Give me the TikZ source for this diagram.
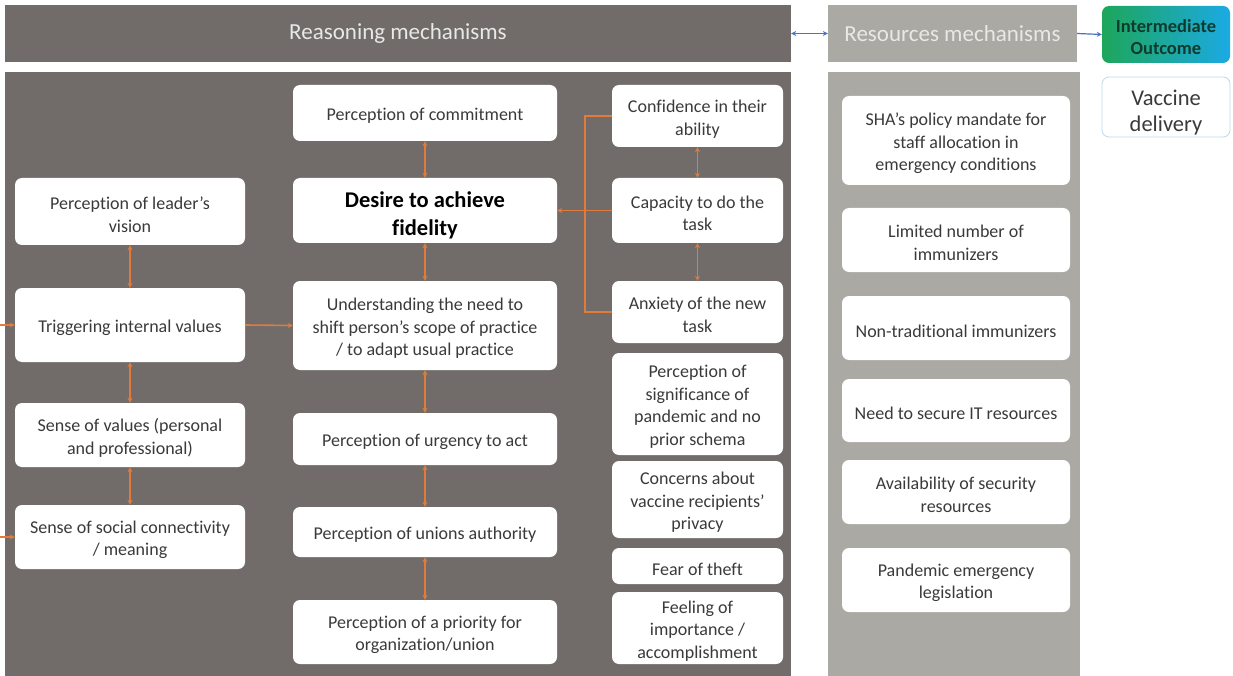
\documentclass[tikz,border=0pt]{standalone}
\usepackage{fontspec}
\setmainfont{Carlito}[Ligatures=NoCommon]
\usetikzlibrary{arrows.meta}

\definecolor{panelgray}{HTML}{716C6A}
\definecolor{resgray}{HTML}{AAA9A4}
\definecolor{headtext}{HTML}{E8E8E6}
\definecolor{boxtext}{HTML}{3A3A3A}
\definecolor{linkorange}{HTML}{E07B3C}
\definecolor{linkblue}{HTML}{4A72C0}
\definecolor{outgreen}{HTML}{1DA65A}
\definecolor{outcyan}{HTML}{1BAAE4}
\definecolor{outtext}{HTML}{0F3B2E}
\definecolor{vacborder}{HTML}{BCD9EC}

\begin{document}
\begin{tikzpicture}[x=1pt,y=-1pt,
  box/.style={rounded corners=7pt, fill=white, inner sep=0pt},
  btext/.style={align=center, text=boxtext, inner sep=0pt, yshift=-3pt,
    font=\fontsize{18}{22.5}\selectfont},
  header/.style={inner sep=0pt, text=headtext, font=\fontsize{23}{28}\selectfont},
  panel/.style={inner sep=0pt},
  link/.style={draw=linkorange, line width=1.6pt, -{Stealth[length=5pt,width=5pt]}},
  twoway/.style={draw=linkorange, line width=1.6pt,
    {Stealth[length=5pt,width=5pt]}-{Stealth[length=5pt,width=5pt]}},
  plainlink/.style={draw=linkorange, line width=1.6pt},
  bluelink/.style={draw=linkblue, line width=1.2pt}]

\useasboundingbox (0,0) rectangle (1233,676);

% headers and panels
\node[header, fill=panelgray, minimum width=786pt, minimum height=57pt] (rh) at (398,33.5) {Reasoning mechanisms};
\node[panel, fill=panelgray, minimum width=786pt, minimum height=604pt] (rp) at (398,374) {};
\node[header, fill=resgray, minimum width=249pt, minimum height=57pt] (sh) at (952.5,33.5) {Resources mechanisms};
\node[panel, fill=resgray, minimum width=252pt, minimum height=604pt] (sp) at (954,374) {};

% outcome
\node[rounded corners=7pt, left color=outgreen, right color=outcyan, inner sep=0pt,
  minimum width=128pt, minimum height=57pt,
  label={[btext, text=outtext, font=\fontsize{18.5}{22}\selectfont\bfseries]center:{Intermediate\\Outcome}}] (io) at (1166,34.5) {};
\node[rounded corners=7pt, fill=white, draw=vacborder, line width=0.8pt, inner sep=0pt,
  minimum width=128pt, minimum height=60pt,
  label={[btext, yshift=-2.5pt, font=\fontsize{22.5}{26}\selectfont]center:{Vaccine\\delivery}}] (vd) at (1166,107) {};

\draw[bluelink, {Stealth[length=5pt,width=5pt]}-{Stealth[length=5pt,width=5pt]}] (rh.east) -- (sh.west);
\draw[bluelink, -{Stealth[length=5pt,width=5pt]}] (sh.east) -- (io.west);

% left column
\node[box, minimum width=230pt, minimum height=67pt, label={[btext]center:{Perception of leader’s\\vision}}] (lv) at (130,211.5) {};
\node[box, minimum width=230pt, minimum height=74pt, label={[btext]center:{Triggering internal values}}] (tv) at (130,325) {};
\node[box, minimum width=230pt, minimum height=64pt, label={[btext]center:{Sense of values (personal\\and professional)}}] (sv) at (130,435) {};
\node[box, minimum width=230pt, minimum height=64pt, label={[btext]center:{Sense of social connectivity\\/ meaning}}] (sc) at (130,537) {};

% middle column
\node[box, minimum width=264pt, minimum height=56pt, label={[btext]center:{Perception of commitment}}] (pc) at (425,113) {};
\node[box, minimum width=264pt, minimum height=65pt, label={[btext, yshift=-2pt, text=black, font=\fontsize{22.5}{28}\selectfont\bfseries]center:{Desire to achieve\\fidelity}}] (df) at (425,210.5) {};
\node[box, minimum width=264pt, minimum height=89pt, label={[btext]center:{Understanding the need to\\shift person’s scope of practice\\/ to adapt usual practice}}] (un) at (425,325.5) {};
\node[box, minimum width=264pt, minimum height=52pt, label={[btext]center:{Perception of urgency to act}}] (pu) at (425,439) {};
\node[box, minimum width=264pt, minimum height=50pt, label={[btext]center:{Perception of unions authority}}] (pa) at (425,532) {};
\node[box, minimum width=264pt, minimum height=64pt, label={[btext]center:{Perception of a priority for\\organization/union}}] (pp) at (425,632) {};

% right column
\node[box, minimum width=171pt, minimum height=62pt, label={[btext]center:{Confidence in their\\ability}}] (ca) at (697.5,116) {};
\node[box, minimum width=171pt, minimum height=65pt, label={[btext]center:{Capacity to do the\\task}}] (ct) at (697.5,210.5) {};
\node[box, minimum width=171pt, minimum height=62pt, label={[btext]center:{Anxiety of the new\\task}}] (an) at (697.5,312) {};
\node[box, minimum width=171pt, minimum height=102pt, label={[btext]center:{Perception of\\significance of\\pandemic and no\\prior schema}}] (ps) at (697.5,404) {};
\node[box, minimum width=171pt, minimum height=77pt, label={[btext]center:{Concerns about\\vaccine recipients’\\privacy}}] (cv) at (697.5,499.5) {};
\node[box, minimum width=171pt, minimum height=36pt, label={[btext]center:{Fear of theft}}] (ft) at (697.5,566) {};
\node[box, minimum width=171pt, minimum height=72pt, label={[btext]center:{Feeling of\\importance /\\accomplishment}}] (fi) at (697.5,628) {};

% resources column
\node[box, minimum width=228pt, minimum height=89pt, label={[btext]center:{SHA’s policy mandate for\\staff allocation in\\emergency conditions}}] (r1) at (956,140.5) {};
\node[box, minimum width=228pt, minimum height=64pt, label={[btext]center:{Limited number of\\immunizers}}] (r2) at (956,240) {};
\node[box, minimum width=228pt, minimum height=64pt, label={[btext]center:{Non-traditional immunizers}}] (r3) at (956,328) {};
\node[box, minimum width=228pt, minimum height=63pt, label={[btext]center:{Need to secure IT resources}}] (r4) at (956,410.5) {};
\node[box, minimum width=228pt, minimum height=64pt, label={[btext]center:{Availability of security\\resources}}] (r5) at (956,492) {};
\node[box, minimum width=228pt, minimum height=64pt, label={[btext]center:{Pandemic emergency\\legislation}}] (r6) at (956,580) {};

% links, left column
\draw[twoway] (lv.south) -- (tv.north);
\draw[twoway] (tv.south) -- (sv.north);
\draw[twoway] (sv.south) -- (sc.north);
\coordinate (inA) at (0,325);
\coordinate (inB) at (0,537);
\draw[link] (inA) -- (tv.west);
\draw[link] (inB) -- (sc.west);
\draw[link] (tv.east) -- (un.west);

% links, middle column
\draw[twoway] (pc.south) -- (df.north);
\draw[twoway] (df.south) -- (un.north);
\draw[twoway] (un.south) -- (pu.north);
\draw[twoway] (pu.south) -- (pa.north);
\draw[twoway] (pa.south) -- (pp.north);

% links, right column
\draw[twoway] (ca.south) -- (ct.north);
\draw[twoway] (ct.south) -- (an.north);
\coordinate (spine) at (585,211);
\draw[plainlink] (ca.west) -| (spine) |- (an.west);
\draw[link] (ct.west) -- (df.east);

\end{tikzpicture}
\end{document}
